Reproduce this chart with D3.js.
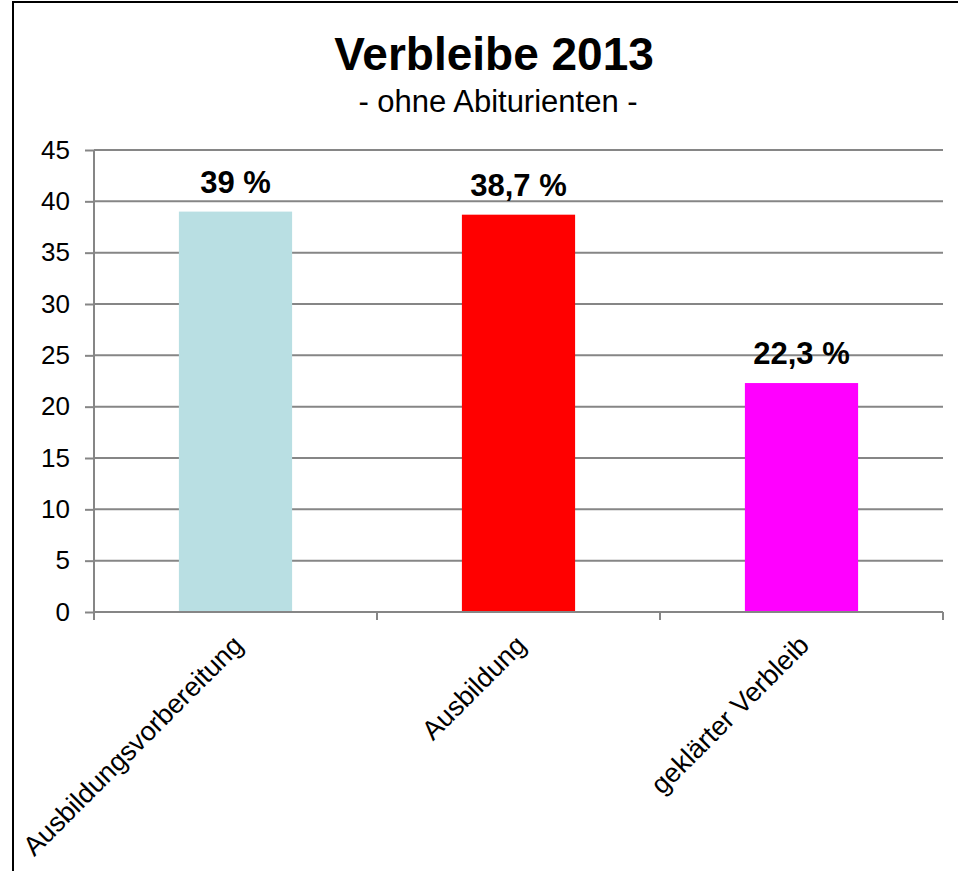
<!DOCTYPE html>
<html><head><meta charset="utf-8">
<script src="https://cdn.jsdelivr.net/npm/d3@7"></script>
<style>body{margin:0;background:#fff}svg{display:block}</style>
</head><body>
<svg id="c" width="958" height="871"></svg>
<script>
const categories = ["Ausbildungsvorbereitung", "Ausbildung", "geklärter Verbleib"];
const values = [39, 38.7, 22.3];
const valueLabels = ["39 %", "38,7 %", "22,3 %"];
const colors = ["#B9DFE3", "#FF0000", "#FF00FF"];
const yTicks = [0, 5, 10, 15, 20, 25, 30, 35, 40, 45];
const title = "Verbleibe 2013";
const subtitle = "- ohne Abiturienten -";

const svg = d3.select("#c");
const font = "Arial, 'Liberation Sans', sans-serif";

// outer frame
svg.append("rect").attr("x", 13).attr("y", 2).attr("width", 980).attr("height", 900)
  .attr("fill", "#fff").attr("stroke", "#000").attr("stroke-width", 2);

const pLeft = 94, pRight = 943, pTop = 150, pBottom = 612;
const x = d3.scaleBand().domain(categories).range([pLeft, pRight]).paddingInner(0.6).paddingOuter(0.3);
const y = d3.scaleLinear().domain([0, 45]).range([pBottom, pTop]);

svg.append("text").attr("x", 494).attr("y", 70).attr("text-anchor", "middle")
  .attr("font-family", font).attr("font-weight", "bold").attr("font-size", 46).text(title);
svg.append("text").attr("x", 498).attr("y", 112).attr("text-anchor", "middle")
  .attr("font-family", font).attr("font-size", 31).text(subtitle);

// gridlines
svg.append("g").selectAll("line").data(yTicks.filter(d => d > 0)).join("line")
  .attr("x1", pLeft).attr("x2", pRight).attr("y1", d => y(d)).attr("y2", d => y(d))
  .attr("stroke", "#868686").attr("stroke-width", 2);

// bars
svg.append("g").selectAll("rect").data(values).join("rect")
  .attr("x", (d, i) => x(categories[i])).attr("width", x.bandwidth())
  .attr("y", d => y(d)).attr("height", d => y(0) - y(d))
  .attr("fill", (d, i) => colors[i]);

// y axis
const ya = svg.append("g").attr("transform", `translate(${pLeft},0)`)
  .call(d3.axisLeft(y).tickValues(yTicks).tickSize(9).tickPadding(15));
ya.select(".domain").attr("stroke", "#868686").attr("stroke-width", 2).attr("d", `M0,${pTop}V${pBottom + 8}`);
ya.selectAll(".tick line").attr("stroke", "#868686").attr("stroke-width", 2);
ya.selectAll(".tick text").attr("font-family", font).attr("font-size", 26).attr("fill", "#000");

// x axis
const boundaries = [0, 1, 2, 3].map(i => pLeft + i * (pRight - pLeft) / 3);
svg.append("line").attr("x1", pLeft).attr("x2", pRight).attr("y1", pBottom).attr("y2", pBottom)
  .attr("stroke", "#868686").attr("stroke-width", 2);
svg.append("g").selectAll("line").data(boundaries).join("line")
  .attr("x1", d => d).attr("x2", d => d).attr("y1", pBottom).attr("y2", pBottom + 8)
  .attr("stroke", "#868686").attr("stroke-width", 2);

// category labels
svg.append("g").selectAll("text").data(categories).join("text")
  .attr("transform", d => `translate(${x(d) + x.bandwidth() / 2 + 9},${pBottom + 35}) rotate(-45)`)
  .attr("text-anchor", "end").attr("font-family", font).attr("font-size", 27).text(d => d);

// value labels
svg.append("g").selectAll("text").data(values).join("text")
  .attr("x", (d, i) => x(categories[i]) + x.bandwidth() / 2)
  .attr("y", d => y(d) - 19)
  .attr("text-anchor", "middle").attr("font-family", font).attr("font-weight", "bold")
  .attr("font-size", 31).text((d, i) => valueLabels[i]);
</script>
</body></html>
